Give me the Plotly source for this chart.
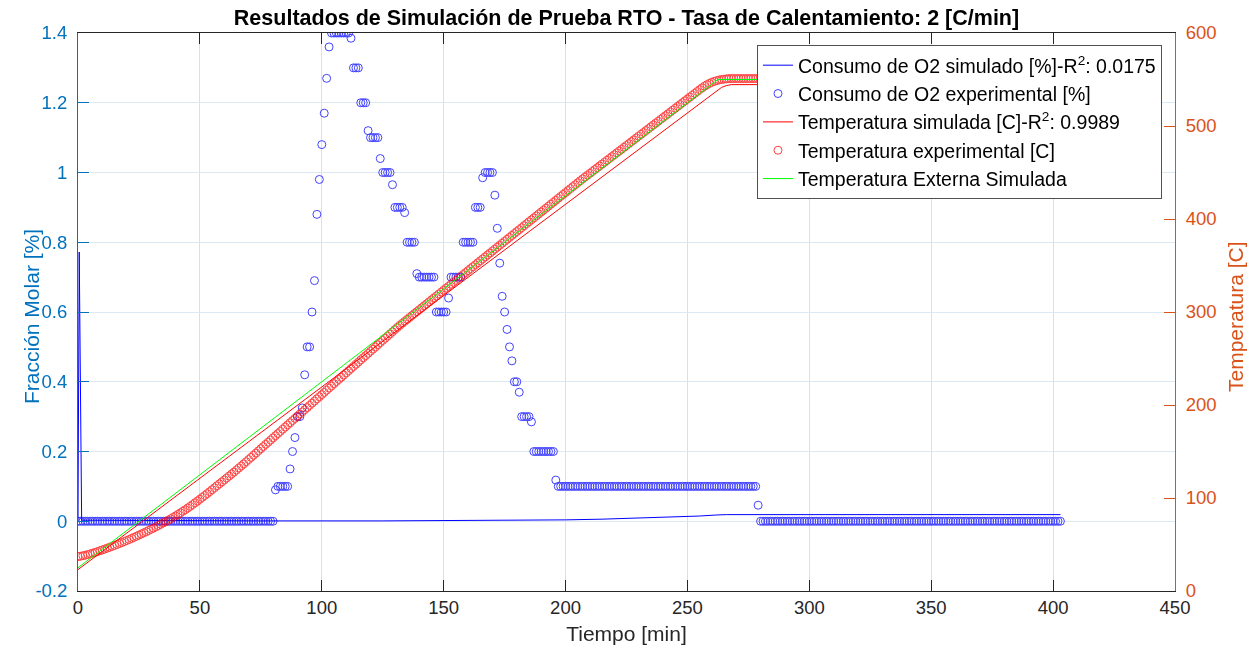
import plotly.graph_objects as go

# ---------------- data ----------------
# Experimental O2 consumption, one reading per minute (t = 0 .. 403 min),
# stored as (value, repeat count) runs
o2_exp_runs = [
    (0.0, 81), (0.09, 1), (0.1, 5), (0.15, 1), (0.2, 1), (0.24, 1), (0.3, 2),
    (0.325, 1), (0.42, 1), (0.5, 2), (0.6, 1), (0.69, 1), (0.88, 1), (0.98, 1),
    (1.08, 1), (1.17, 1), (1.27, 1), (1.36, 1), (1.4, 8), (1.385, 1), (1.3, 3),
    (1.2, 3), (1.12, 1), (1.1, 4), (1.04, 1), (1.0, 4), (0.965, 1), (0.9, 4),
    (0.885, 1), (0.8, 4), (0.71, 1), (0.7, 7), (0.6, 5), (0.64, 1), (0.7, 5),
    (0.8, 5), (0.9, 3), (0.985, 1), (1.0, 4), (0.935, 1), (0.84, 1), (0.74, 1),
    (0.645, 1), (0.6, 1), (0.55, 1), (0.5, 1), (0.46, 1), (0.4, 2), (0.37, 1),
    (0.3, 4), (0.285, 1), (0.2, 9), (0.118, 1), (0.1, 82), (0.046, 1), (0.0, 124),
]

# Simulated O2 consumption
t_o2_sim = [0, 0.5, 1.5, 25, 75, 125, 160, 185, 200, 215, 230, 245, 255, 262, 266, 403]
o2_sim = [0.0, 0.772, 0.003, 0.002, 0.001, 0.001, 0.002, 0.003, 0.004, 0.006,
          0.0086, 0.012, 0.015, 0.018, 0.019, 0.019]

# Experimental temperature, one reading per minute (t = 0 .. 269 min)
temp_exp_ramp = [
    37.0, 37.4, 37.9, 38.5, 39.2, 39.9, 40.7, 41.5, 42.4, 43.3,
    44.2, 45.1, 46.1, 47.0, 48.0, 49.0, 50.0, 51.1, 52.1, 53.2,
    54.3, 55.4, 56.6, 57.7, 58.9, 60.1, 61.3, 62.6, 63.8, 65.1,
    66.4, 67.7, 69.1, 70.4, 71.8, 73.2, 74.6, 76.1, 77.6, 79.1,
    80.7, 82.3, 84.0, 85.7, 87.4, 89.2, 91.0, 92.9, 94.8, 96.7,
    98.7, 100.7, 102.7, 104.7, 106.8, 108.9, 111.0, 113.1, 115.2, 117.3,
    119.4, 121.5, 123.6, 125.8, 127.9, 130.1, 132.3, 134.5, 136.7, 139.0,
    141.4, 143.7, 146.0, 148.3, 150.7, 153.0, 155.3, 157.7, 160.0, 162.3,
    164.6, 167.0, 169.3, 171.6, 174.0, 176.3, 178.6, 180.9, 183.3, 185.6,
    187.9, 190.3, 192.6, 194.9, 197.2, 199.6, 201.9, 204.2, 206.6, 208.9,
    211.2, 213.5, 215.9, 218.2, 220.5, 222.9, 225.2, 227.5, 229.8, 232.2,
    234.5, 236.8, 239.2, 241.5, 243.8, 246.1, 248.5, 250.8, 253.1, 255.5,
    257.8, 260.1, 262.4, 264.8, 267.1, 269.4, 271.8, 274.1, 276.4, 278.7,
    281.1, 283.4, 285.7, 287.8, 289.9, 292.0, 294.1, 296.2, 298.3, 300.4,
    302.5, 304.6, 306.7, 308.8, 310.9, 313.0, 315.1, 317.2, 319.3, 321.4,
    323.5, 325.6, 327.7, 329.8, 331.9, 334.0, 336.1, 338.2, 340.3, 342.4,
    344.5, 346.6, 348.7, 350.8, 352.9, 355.0, 357.1, 359.2, 361.3, 363.4,
    365.5, 367.6, 369.7, 371.8, 373.9, 376.0, 378.1, 380.2, 382.3, 384.4,
    386.5, 388.6, 390.7, 392.8, 394.9, 397.0, 399.1, 401.2, 403.3, 405.4,
    407.5, 409.6, 411.7, 413.8, 415.9, 418.0, 420.1, 422.2, 424.3, 426.4,
    428.5, 430.6, 432.7, 434.8, 436.9, 439.0, 441.1, 443.1, 445.1, 447.1,
    449.1, 451.1, 453.1, 455.1, 457.1, 459.1, 461.1, 463.1, 465.1, 467.1,
    469.1, 471.1, 473.1, 475.1, 477.1, 479.1, 481.1, 483.1, 485.1, 487.1,
    489.1, 491.1, 493.1, 495.1, 497.1, 499.1, 501.1, 503.1, 505.1, 507.1,
    509.1, 511.1, 513.1, 515.1, 517.1, 519.1, 521.1, 523.1, 525.1, 527.1,
    529.1, 531.1, 533.1, 535.1, 537.1, 539.1, 541.0, 542.8, 544.4, 545.8,
    547.0, 548.0, 548.8, 549.5, 550.0, 550.4, 550.7, 551.0, 551.0, 551.0,
]
# Plateau of the experimental temperature (t = 270 .. 403 min)
temp_exp_plateau = (551.0, 134)

# Simulated sample temperature
t_temp_sim = [0, 264, 266, 268, 403]
temp_sim = [23.0, 541.5, 543.5, 544.5, 544.5]

# Simulated external (oven) temperature
t_temp_ext = [0, 262.5, 403]
temp_ext = [25.0, 550.0, 550.0]

# Axis ticks
x_ticks = [0, 50, 100, 150, 200, 250, 300, 350, 400, 450]
y_left_ticks = [-0.2, 0, 0.2, 0.4, 0.6, 0.8, 1.0, 1.2, 1.4]
y_left_labels = ["-0.2", "0", "0.2", "0.4", "0.6", "0.8", "1", "1.2", "1.4"]
y_right_ticks = [0, 100, 200, 300, 400, 500, 600]

r2_o2 = "0.0175"
r2_temp = "0.9989"

# ---------------- build series ----------------
o2_exp = [v for v, n in o2_exp_runs for _ in range(n)]
t_o2_exp = list(range(len(o2_exp)))

temp_exp = temp_exp_ramp + [temp_exp_plateau[0]] * temp_exp_plateau[1]
t_temp_exp = list(range(len(temp_exp)))

# ---------------- styling ----------------
FONT = "Liberation Sans, Arial, sans-serif"
BLUE_AX = "rgb(0,114,189)"
ORANGE_AX = "rgb(217,83,25)"
DARK = "rgb(38,38,38)"
TICK_SIZE = 18.5
LABEL_SIZE = 21

# plot area in pixels (used to place the y-axis labels)
W, H = 1255, 653
ML, MR, MT, MB = 78, 80, 33, 62
PW, PH = W - ML - MR, H - MT - MB

fig = go.Figure()

fig.add_trace(go.Scatter(
    x=t_o2_sim, y=o2_sim, mode="lines", yaxis="y",
    line=dict(color="rgb(0,0,255)", width=1),
    name=f"Consumo de O2 simulado [%]-R<sup>2</sup>: {r2_o2}",
))
fig.add_trace(go.Scatter(
    x=t_o2_exp, y=o2_exp, mode="markers", yaxis="y",
    marker=dict(symbol="circle-open", size=8, color="rgb(0,0,255)",
                line=dict(width=1, color="rgb(0,0,255)")),
    opacity=0.75,
    name="Consumo de O2 experimental [%]",
))
fig.add_trace(go.Scatter(
    x=t_temp_sim, y=temp_sim, mode="lines", yaxis="y2",
    line=dict(color="rgb(255,0,0)", width=1),
    name=f"Temperatura simulada [C]-R<sup>2</sup>: {r2_temp}",
))
fig.add_trace(go.Scatter(
    x=t_temp_exp, y=temp_exp, mode="markers", yaxis="y2",
    marker=dict(symbol="circle-open", size=8, color="rgb(255,0,0)",
                line=dict(width=1, color="rgb(255,0,0)")),
    opacity=0.75,
    name="Temperatura experimental [C]",
))
fig.add_trace(go.Scatter(
    x=t_temp_ext, y=temp_ext, mode="lines", yaxis="y2",
    line=dict(color="rgb(0,255,0)", width=1),
    name="Temperatura Externa Simulada",
))

label_y = (H - MB - 317) / PH
fig.add_annotation(
    text="Fracción Molar [%]", textangle=-90,
    xref="paper", yref="paper", x=(32 - ML) / PW, y=label_y,
    xanchor="center", yanchor="middle", showarrow=False,
    font=dict(family=FONT, size=LABEL_SIZE, color=BLUE_AX),
)
fig.add_annotation(
    text="Temperatura [C]", textangle=-90,
    xref="paper", yref="paper", x=(1236 - ML) / PW, y=label_y,
    xanchor="center", yanchor="middle", showarrow=False,
    font=dict(family=FONT, size=LABEL_SIZE, color=ORANGE_AX),
)

fig.update_layout(
    width=W, height=H, autosize=False,
    margin=dict(l=ML, r=MR, t=MT, b=MB),
    paper_bgcolor="white", plot_bgcolor="white",
    font=dict(family=FONT, size=TICK_SIZE, color=DARK),
    title=dict(
        text="<b>Resultados de Simulación de Prueba RTO - Tasa de Calentamiento: 2 [C/min]</b>",
        x=0.5, xref="paper", xanchor="center",
        y=1 - 17 / H, yref="container", yanchor="middle",
        font=dict(family=FONT, size=21.5, color="black"),
    ),
    xaxis=dict(
        range=[0, 450], tickvals=x_ticks,
        ticks="inside", ticklen=11, tickcolor=DARK, tickwidth=1,
        showline=True, linecolor=DARK, linewidth=1, mirror="ticks",
        showgrid=True, gridcolor="rgb(223,223,223)", gridwidth=1,
        zeroline=False,
        tickfont=dict(size=TICK_SIZE, color=DARK),
        title=dict(text="Tiempo [min]", font=dict(size=LABEL_SIZE, color=DARK), standoff=9),
    ),
    yaxis=dict(
        range=[-0.2, 1.4], tickvals=y_left_ticks, ticktext=y_left_labels,
        ticks="inside", ticklen=11, tickcolor=BLUE_AX, tickwidth=1,
        showline=True, linecolor=BLUE_AX, linewidth=1,
        showgrid=True, gridcolor="rgb(220,233,243)", gridwidth=1,
        zeroline=False,
        tickfont=dict(size=TICK_SIZE, color=BLUE_AX),
        ticklabelstandoff=6,
    ),
    yaxis2=dict(
        range=[0, 600], tickvals=y_right_ticks,
        overlaying="y", side="right",
        ticks="inside", ticklen=11, tickcolor=ORANGE_AX, tickwidth=1,
        showline=True, linecolor=ORANGE_AX, linewidth=1,
        showgrid=False, zeroline=False,
        tickfont=dict(size=TICK_SIZE, color=ORANGE_AX),
        ticklabelstandoff=6,
    ),
    legend=dict(
        x=(757 - ML) / PW, y=(H - MB - 45) / PH,
        xanchor="left", yanchor="top",
        bgcolor="white", bordercolor="rgb(80,80,80)", borderwidth=1,
        font=dict(family=FONT, size=19.5, color="black"),
        tracegroupgap=0, itemwidth=30,
    ),
    showlegend=True,
)

fig.write_html("out.html")
